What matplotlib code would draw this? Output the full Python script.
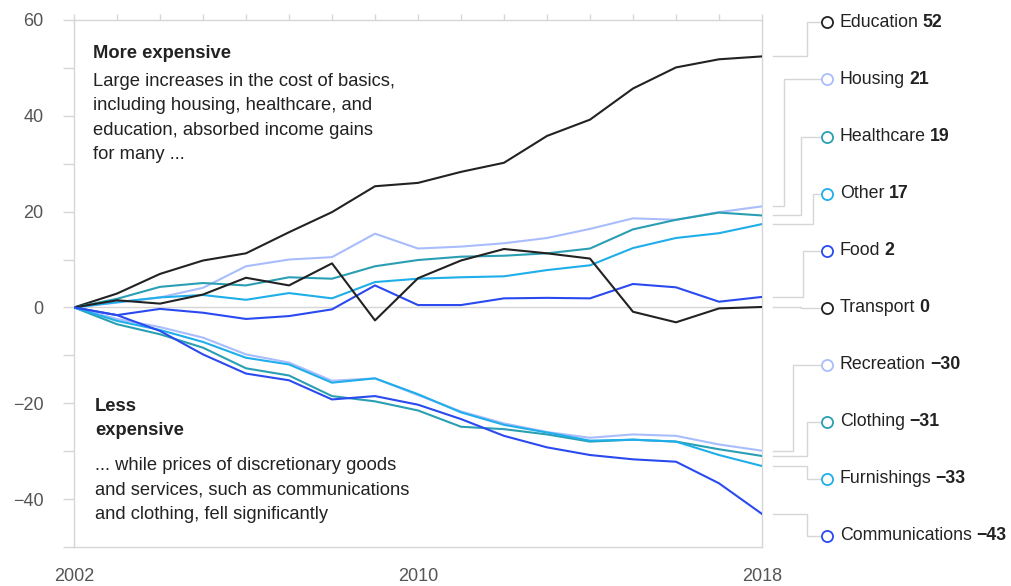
import numpy as np
import matplotlib.pyplot as plt

plt.rcParams['font.family'] = ['Liberation Sans', 'DejaVu Sans']

# change in price since 2002, %
years = np.arange(2002, 2019)

education = [0, 2.9, 7.0, 9.8, 11.3, 15.7, 19.9, 25.3, 26.0, 28.3, 30.2, 35.8, 39.2, 45.7, 50.1, 51.8, 52.4]
housing = [0, 1.0, 2.1, 4.1, 8.6, 10.0, 10.5, 15.4, 12.3, 12.7, 13.4, 14.5, 16.4, 18.6, 18.3, 19.9, 21.1]
healthcare = [0, 1.8, 4.3, 5.1, 4.6, 6.3, 6.0, 8.6, 9.9, 10.6, 10.8, 11.3, 12.3, 16.3, 18.3, 19.8, 19.2]
other = [0, 1.1, 2.1, 2.6, 1.6, 3.0, 1.9, 5.3, 6.0, 6.3, 6.5, 7.8, 8.8, 12.4, 14.5, 15.5, 17.4]
food = [0, -1.6, -0.3, -1.1, -2.4, -1.8, -0.4, 4.6, 0.5, 0.5, 1.9, 2.0, 1.9, 4.9, 4.2, 1.2, 2.2]
transport = [0, 1.5, 0.8, 2.7, 6.2, 4.6, 9.2, -2.7, 6.1, 9.8, 12.2, 11.3, 10.2, -0.9, -3.1, -0.2, 0.1]
recreation = [0, -2.4, -4.1, -6.3, -9.8, -11.5, -15.3, -14.8, -18.3, -21.7, -24.2, -26.0, -27.2, -26.5, -26.8, -28.6, -29.9]
clothing = [0, -3.5, -5.6, -8.4, -12.7, -14.2, -18.5, -19.6, -21.5, -24.9, -25.4, -26.5, -28.0, -27.6, -28.0, -29.6, -31.0]
furnishings = [0, -2.8, -4.7, -7.2, -10.5, -11.9, -15.7, -14.8, -18.1, -21.9, -24.5, -26.1, -27.8, -27.6, -28.0, -30.8, -33.1]
communications = [0, -1.6, -4.9, -9.8, -13.8, -15.2, -19.2, -18.5, -20.3, -23.3, -26.8, -29.2, -30.8, -31.7, -32.2, -36.7, -43.1]

names = ['Education', 'Housing', 'Healthcare', 'Other', 'Food',
         'Transport', 'Recreation', 'Clothing', 'Furnishings', 'Communications']
series = [education, housing, healthcare, other, food,
          transport, recreation, clothing, furnishings, communications]

BLACK = '#222222'
LIGHT = '#a9bdfc'
TEAL = '#2a9fb3'
SKY = '#1faeea'
BLUE = '#2a4af0'
colors = [BLACK, LIGHT, TEAL, SKY, BLUE, BLACK, LIGHT, TEAL, SKY, BLUE]

# where each leader line turns, in years past the last point
elbows = [1.05, 0.51, 0.91, 1.19, 0.95, 0.90, 0.72, 1.05, 1.05, 1.05]
label_y = np.linspace(59.5, -47.7, len(names))

GRID = '#d6d6d6'
TEXT = '#222222'

fig = plt.figure(figsize=(10.11, 5.86), dpi=100)
ax = fig.add_axes([74 / 1011, 1 - 547 / 586, 688 / 1011, 527 / 586])

ax.axhline(0, color=GRID, lw=1, zorder=1)
for vals, c in zip(series, colors):
    ax.plot(years, vals, color=c, lw=1.5, zorder=3)

ax.set_xlim(2002, 2018)
ax.set_ylim(-50, 60)

for side in ['left', 'right', 'top', 'bottom']:
    ax.spines[side].set_color(GRID)
    ax.spines[side].set_linewidth(1)

yt = list(range(-50, 61, 10))
ax.set_yticks(yt)
ax.set_yticklabels(['' if v % 20 else str(v).replace('-', '\u2212') for v in yt])
ax.tick_params(axis='y', length=8, width=1, color=GRID, pad=14,
               labelsize=13, labelcolor='#555555')

ax.set_xticks([2002, 2010, 2018])
ax.set_xticks(years, minor=True)
ax.xaxis.remove_overlapping_locs = False
ax.tick_params(axis='x', which='major', length=0, pad=15,
               labelsize=13, labelcolor='#555555')
ax.tick_params(axis='x', which='minor', top=True, bottom=False,
               length=4.5, width=1, color=GRID)

# leader lines, circles and end labels
x_end = years[-1]
for name, vals, c, ex, ly in zip(names, series, colors, elbows, label_y):
    last = vals[-1]
    ax.plot([x_end + 0.26, x_end + ex, x_end + ex, x_end + 1.40],
            [last, last, ly, ly], color=GRID, lw=1, clip_on=False, zorder=1)
    ax.plot(x_end + 1.51, ly, 'o', ms=8, mfc='white', mec=c, mew=1.3,
            clip_on=False, zorder=4)
    t = ax.text(x_end + 1.81, ly, name, ha='left', va='center',
                fontsize=12.8, color=TEXT)
    ax.annotate(f'{round(last):d}'.replace('-', '\u2212'), xy=(1, 0), xycoords=t,
                xytext=(3, 0), textcoords='offset points',
                ha='left', va='bottom', fontsize=12.8, fontweight='bold', color=TEXT)

# annotations
fig.text(93 / 1011, 1 - 45 / 586, 'More expensive', fontsize=13.2,
         fontweight='bold', color=TEXT, va='top')
fig.text(93 / 1011, 1 - 73 / 586,
         'Large increases in the cost of basics,\nincluding housing, healthcare, and\n'
         'education, absorbed income gains\nfor many ...',
         fontsize=13.2, color=TEXT, va='top', linespacing=1.56)
fig.text(95 / 1011, 1 - 398 / 586, 'Less\nexpensive', fontsize=13.2,
         fontweight='bold', color=TEXT, va='top', linespacing=1.56)
fig.text(95 / 1011, 1 - 457 / 586,
         '... while prices of discretionary goods\nand services, such as communications\n'
         'and clothing, fell significantly',
         fontsize=13.2, color=TEXT, va='top', linespacing=1.56)

fig.savefig('out.png', dpi=100)
